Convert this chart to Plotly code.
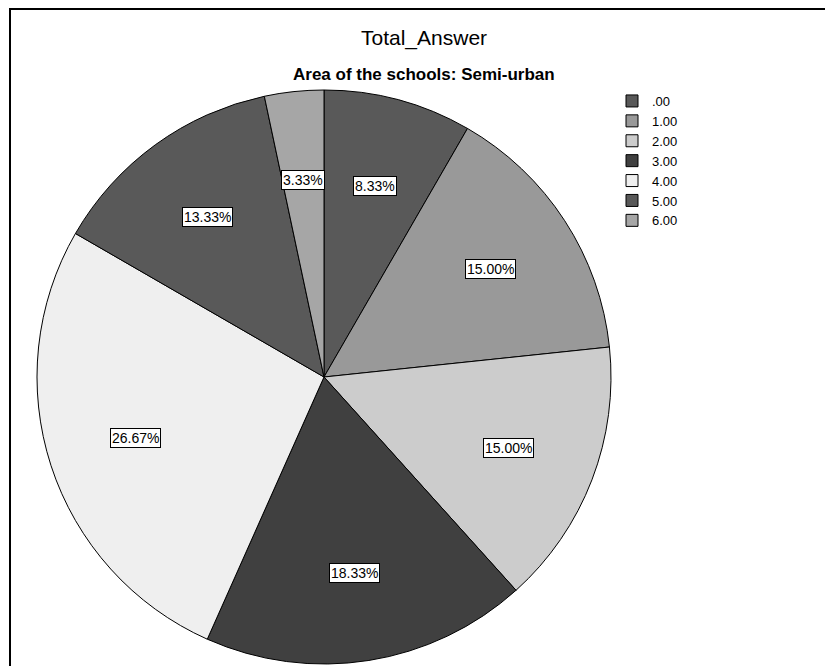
import math
import plotly.graph_objects as go

# ---- data ----
categories = [".00", "1.00", "2.00", "3.00", "4.00", "5.00", "6.00"]
counts = [5, 9, 9, 11, 16, 8, 2]
colors = ["#595959", "#999999", "#cccccc", "#404040", "#efefef", "#595959", "#a6a6a6"]
title_text = "Total_Answer"
subtitle_text = "Area of the schools: Semi-urban"

W, H = 825, 666
FONT = "Arial, Liberation Sans, sans-serif"

# pie geometry (pixels -> paper)
px_left, px_right, px_top, px_bottom = 37, 611, 90, 664
dom_x = [px_left / W, px_right / W]
dom_y = [1 - px_bottom / H, 1 - px_top / H]

fig = go.Figure()
fig.add_trace(go.Pie(
    labels=categories,
    values=counts,
    sort=False,
    direction="clockwise",
    rotation=0,
    textinfo="none",
    marker=dict(colors=colors, line=dict(color="#000000", width=1)),
    domain=dict(x=dom_x, y=dom_y),
    hovertemplate="%{label}: %{percent}<extra></extra>",
))

# percent labels in boxes, placed at the slice mid-angles
total = sum(counts)
cx_px = (px_left + px_right) / 2
cy_px = (px_top + px_bottom) / 2
R = min(px_right - px_left, px_bottom - px_top) / 2
frac = 0.69
cum = 0
for v in counts:
    mid = (cum + v / 2) / total * 2 * math.pi
    cum += v
    x_px = cx_px + frac * R * math.sin(mid)
    y_px = cy_px - frac * R * math.cos(mid)
    fig.add_annotation(
        x=x_px / W, y=1 - y_px / H, xref="paper", yref="paper",
        text="%.2f%%" % (v / total * 100),
        showarrow=False,
        font=dict(family=FONT, size=14, color="#000000"),
        bgcolor="#ffffff", bordercolor="#000000", borderwidth=1, borderpad=1,
        xanchor="center", yanchor="middle",
    )

# titles
fig.add_annotation(x=424 / W, y=1 - 38 / H, xref="paper", yref="paper",
                   text=title_text, showarrow=False,
                   font=dict(family=FONT, size=21, color="#000000"),
                   xanchor="center", yanchor="middle")
fig.add_annotation(x=424 / W, y=1 - 75 / H, xref="paper", yref="paper",
                   text="<b>" + subtitle_text + "</b>", showarrow=False,
                   font=dict(family=FONT, size=17, color="#000000"),
                   xanchor="center", yanchor="middle")

# chart frame
fig.add_shape(type="rect", xref="paper", yref="paper",
              x0=10 / W, x1=1.05, y0=-0.05, y1=1 - 9 / H,
              line=dict(color="#000000", width=2), fillcolor="rgba(0,0,0,0)")

fig.update_layout(
    width=W, height=H,
    margin=dict(l=0, r=0, t=0, b=0),
    paper_bgcolor="#ffffff", plot_bgcolor="#ffffff",
    showlegend=True,
    legend=dict(x=612 / W, y=1 - 86 / H, xanchor="left", yanchor="top",
                font=dict(family=FONT, size=13, color="#000000"),
                bgcolor="rgba(0,0,0,0)", traceorder="normal"),
)

fig.write_html("out.html")
